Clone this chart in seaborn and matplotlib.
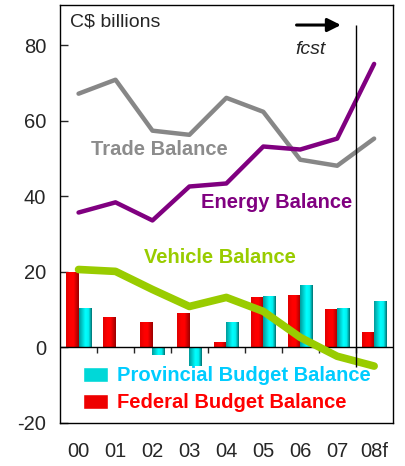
import numpy as np
import pandas as pd
import matplotlib
matplotlib.use("Agg")
import matplotlib.pyplot as plt
from matplotlib.patches import Patch
from matplotlib.colors import LinearSegmentedColormap
import seaborn as sns

years = ["00", "01", "02", "03", "04", "05", "06", "07", "08f"]
trade = [67.2, 70.9, 57.4, 56.3, 66.1, 62.4, 49.7, 48.1, 55.3]
energy = [35.7, 38.4, 33.6, 42.6, 43.4, 53.2, 52.4, 55.3, 75.1]
vehicle = [20.6, 20.1, 15.3, 10.8, 13.2, 9.5, 2.6, -2.4, -5.0]
federal = [20.0, 7.9, 6.7, 9.1, 1.4, 13.3, 13.9, 10.1, 4.0]
provincial = [10.3, 0.0, -2.0, -4.9, 6.7, 13.6, 16.5, 10.3, 12.2]

sns.set_style("white")
plt.rcParams["font.family"] = ["Liberation Sans", "DejaVu Sans"]
plt.rcParams["axes.unicode_minus"] = False

bars = pd.DataFrame({
    "year": years * 2,
    "value": federal + provincial,
    "series": ["Federal Budget Balance"] * 9 + ["Provincial Budget Balance"] * 9,
})
bar_colors = {"Federal Budget Balance": "#ff0000", "Provincial Budget Balance": "#00e5e5"}

# cylinder-like shading for the bars
red_shade = LinearSegmentedColormap.from_list(
    "red_shade", [(0, "#e00000"), (0.35, "#ff0000"), (0.6, "#ff0000"), (1, "#9a0000")])
cyan_shade = LinearSegmentedColormap.from_list(
    "cyan_shade", [(0, "#009a9a"), (0.5, "#00ffff"), (0.75, "#00f0f0"), (1, "#007070")])

fig = plt.figure(figsize=(4.06, 4.66), dpi=100)
ax = fig.add_axes([0.148, 0.093, 0.819, 0.897])

sns.barplot(data=bars, x="year", y="value", hue="series", palette=bar_colors,
            width=0.66, gap=0, saturation=1, ax=ax, legend=False, zorder=2)

grad = np.linspace(0, 1, 64).reshape(1, -1)
for bar in list(ax.patches):
    x0, y0 = bar.get_x(), bar.get_y()
    w, h = bar.get_width(), bar.get_height()
    if h == 0:
        continue
    cmap = red_shade if bar.get_facecolor()[1] < 0.5 else cyan_shade
    img = ax.imshow(grad, cmap=cmap, aspect="auto", zorder=2.1,
                    extent=(x0, x0 + w, min(y0, y0 + h), max(y0, y0 + h)))
    img.set_clip_path(bar)
    bar.set_facecolor("none")
    bar.set_edgecolor("none")

x = np.arange(len(years))
sns.lineplot(x=x, y=trade, color="#878787", lw=3.2, ax=ax, zorder=3)
sns.lineplot(x=x, y=energy, color="#800080", lw=3.2, ax=ax, zorder=3)
sns.lineplot(x=x, y=vehicle, color="#99cc00", lw=5.5, ax=ax, zorder=3,
             solid_capstyle="round")

ax.set_xlim(-0.5, 8.5)
ax.set_ylim(-20, 90.8)
ax.set_yticks([-20, 0, 20, 40, 60, 80])
ax.set_xticks(x)
ax.set_xticklabels(years)
ax.set_xlabel("")
ax.set_ylabel("")
ax.tick_params(axis="y", direction="in", length=6, width=1, pad=10, labelsize=14.5, left=True)
ax.tick_params(axis="x", length=0, pad=14, labelsize=14.5)
for s in ax.spines.values():
    s.set_color("black")
    s.set_linewidth(1)

# zero line with ticks between categories
ax.axhline(0, color="black", lw=1, zorder=2.5)
zero = ax.secondary_xaxis(20 / 110.8)
zero.set_xticks(x[:-1] + 0.5)
zero.set_xticklabels([])
zero.tick_params(direction="out", length=4, width=1)
zero.spines["bottom"].set_visible(False)

# forecast marker
ax.vlines(7.5, -5.2, 85.5, color="black", lw=1, zorder=4)
ax.annotate("", xy=(7.1, 85.4), xytext=(5.9, 85.4),
            arrowprops=dict(arrowstyle="-|>", color="black", lw=2.2, mutation_scale=20,
                            shrinkA=0, shrinkB=0))
ax.text(5.88, 79.0, "fcst", fontsize=14, style="italic", va="center", ha="left")
ax.text(0.03, 0.958, "C$ billions", transform=ax.transAxes, fontsize=14, va="center")

ax.text(2.2, 52.4, "Trade Balance", color="#8c8c8c", fontsize=14.5, fontweight="bold",
        ha="center", va="center")
ax.text(5.36, 38.4, "Energy Balance", color="#800080", fontsize=14.5, fontweight="bold",
        ha="center", va="center")
ax.text(3.82, 23.8, "Vehicle Balance", color="#99cc00", fontsize=14.5, fontweight="bold",
        ha="center", va="center")

handles = [Patch(facecolor="#00d8d8"), Patch(facecolor="#ee0000")]
leg = ax.legend(handles, ["Provincial Budget Balance", "Federal Budget Balance"],
                loc="center left", bbox_to_anchor=(0.062, 0.080), frameon=False,
                prop={"weight": "bold", "size": 14.5}, handlelength=1.25,
                handleheight=0.75, handletextpad=0.45, labelspacing=0.4,
                borderpad=0.1, borderaxespad=0.0)
leg.set_zorder(5)
for t, c in zip(leg.get_texts(), ["#00ccff", "#ff0000"]):
    t.set_color(c)

fig.savefig("out.png", dpi=100)
